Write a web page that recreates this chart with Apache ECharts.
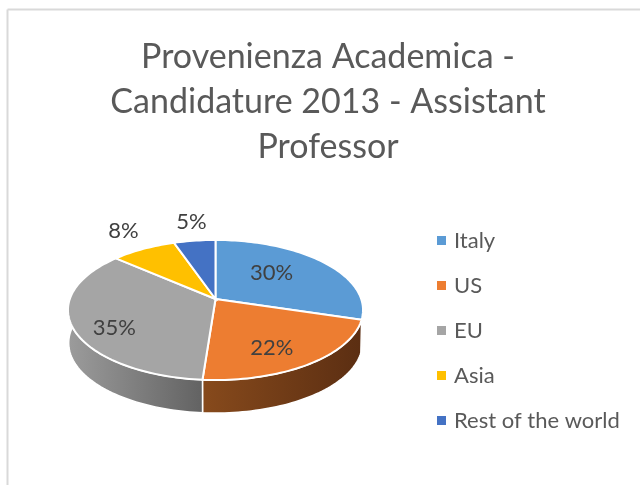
<!DOCTYPE html>
<html><head><meta charset="utf-8">
<style>html,body{margin:0;padding:0;background:#fff}#c{width:640px;height:485px}</style>
<script src="https://cdn.jsdelivr.net/npm/echarts@6/dist/echarts.min.js"></script>
</head><body><div id="c"></div>
<script>
const categories = ["Italy", "US", "EU", "Asia", "Rest of the world"];
const shares = [29.7, 21.5, 35.2, 8.3, 5.3];
const titleLines = ["Provenienza Academica -", "Candidature 2013 - Assistant", "Professor"];

const colors = ["#5b9bd5", "#ed7d31", "#a5a5a5", "#ffc000", "#4472c4"];
const wallStops = [["#3a6d9c", "#2f5f8f"], ["#874a1c", "#5b2e12"], ["#9c9c9c", "#626262"], ["#99740a", "#99740a"], ["#2a4577", "#2a4577"]];
const labelAnchor = [[0.575, -8], [0.732, 6], [0.762, -9], [1.397, 1.6], [1.385, 1.2]];
const geo = {cx: 215.5, cy: 299, a: 145.7, b: 68.3, k: 0.157, depth: 33, wallShrink: 0.995};
const FONT = "Lato";
const total = shares.reduce((s, v) => s + v, 0);

function project(deg, r, depth, shrink) {
  const t = deg * Math.PI / 180, u = r * Math.sin(t), v = r * Math.cos(t), w = 1 + geo.k * v;
  return [geo.cx + geo.a * u / w * (shrink || 1), geo.cy - geo.b * v / w + (depth || 0)];
}
function arc(from, to, depth, shrink) {
  const pts = [], n = Math.max(2, Math.ceil(Math.abs(to - from) / 1.5));
  for (let i = 0; i <= n; i++) pts.push(project(from + (to - from) * i / n, 1, depth, shrink));
  return pts;
}

let acc = 0;
const series = categories.map((name, i) => {
  const start = acc / total * 360; acc += shares[i];
  const end = acc / total * 360;
  return {
    type: "custom", name, coordinateSystem: "none", silent: true,
    itemStyle: {color: colors[i]},
    data: [[start, end, shares[i]]],
    renderItem(params, api) {
      const s = api.value(0), e = api.value(1), val = api.value(2);
      const top = [[geo.cx, geo.cy]].concat(arc(s, e));
      const wall = arc(s, e).concat(arc(e, s, geo.depth, geo.wallShrink));
      const [lr, da] = labelAnchor[i];
      const lp = project((s + e) / 2 + da, lr);
      return {type: "group", children: [
        {type: "polygon", z2: 1, shape: {points: wall}, style: {
          fill: {type: "linear", x: 0, y: 0, x2: 1, y2: 0, colorStops: [
            {offset: 0, color: wallStops[i][0]}, {offset: 1, color: wallStops[i][1]}]},
          stroke: "#fff", lineWidth: 1.5}},
        {type: "polygon", z2: 10, shape: {points: top}, style: {fill: colors[i], stroke: "#fff", lineWidth: 2}},
        {type: "text", z2: 20, x: lp[0], y: lp[1], style: {
          text: Math.round(val) + "%", fill: "#404040", font: "22px " + FONT, align: "center", verticalAlign: "middle"}}
      ]};
    }
  };
});

const chart = echarts.init(document.getElementById("c"), null, {renderer: "canvas"});
chart.setOption({
  animation: false,
  backgroundColor: "#fff",
  title: {
    text: titleLines.join("\n"), left: 323, top: 30, textAlign: "center",
    textStyle: {color: "#595959", fontFamily: FONT, fontSize: 34, fontWeight: "normal", lineHeight: 45}
  },
  legend: {
    orient: "vertical", left: 432, top: 224, icon: "rect", itemWidth: 9, itemHeight: 9, itemGap: 22,
    selectedMode: false, data: categories,
    textStyle: {color: "#595959", fontFamily: FONT, fontSize: 22, padding: [0, 0, 0, 3], lineHeight: 23}
  },
  graphic: [
    {type: "line", silent: true, shape: {x1: 7.5, y1: 9.5, x2: 640, y2: 9.5}, style: {stroke: "#d9d9d9", lineWidth: 2}},
    {type: "line", silent: true, shape: {x1: 7.5, y1: 9.5, x2: 7.5, y2: 485}, style: {stroke: "#d9d9d9", lineWidth: 2}}
  ],
  series
});
</script></body></html>
